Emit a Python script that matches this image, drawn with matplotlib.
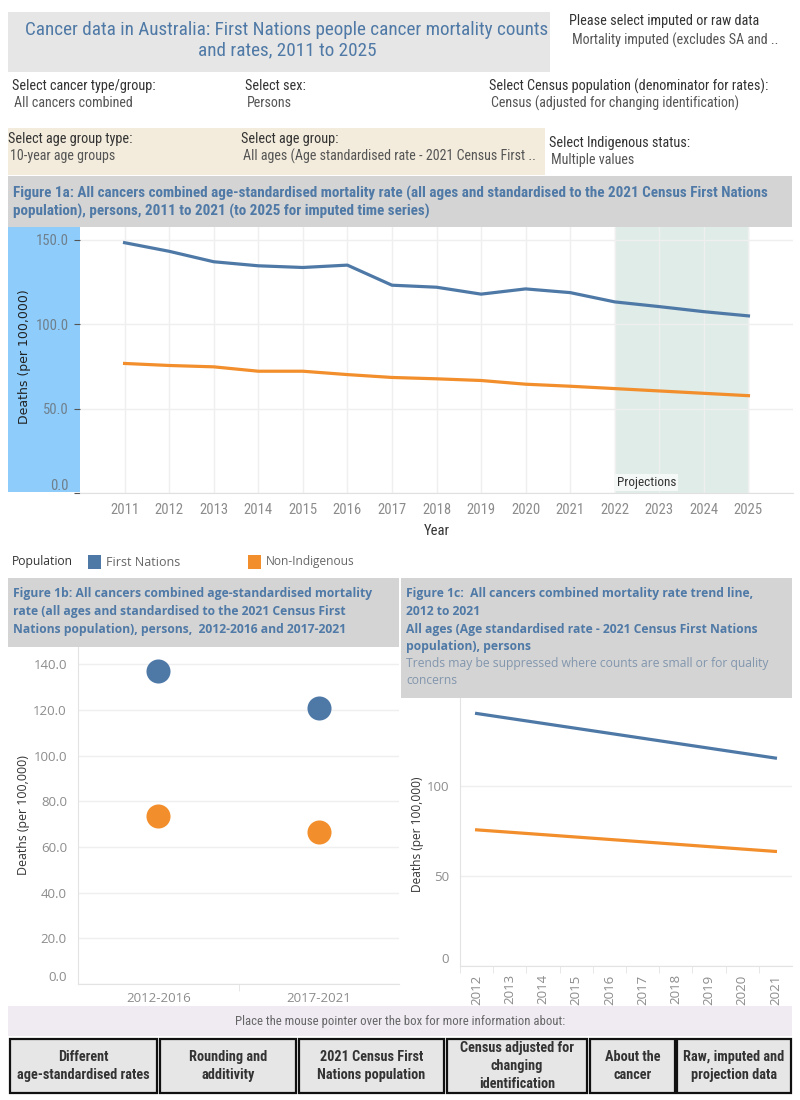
import matplotlib
matplotlib.use("Agg")
import matplotlib.pyplot as plt
from matplotlib.patches import Rectangle

# Figure 1a: age-standardised mortality rate by year
years = [2011, 2012, 2013, 2014, 2015, 2016, 2017, 2018, 2019, 2020, 2021, 2022, 2023, 2024, 2025]
first_nations = [148.4, 143.3, 137.1, 134.7, 133.7, 135.1, 123.2, 122.0, 117.9, 121.0, 118.8, 113.3, 110.5, 107.5, 105.0]
non_indigenous = [76.8, 75.6, 74.8, 72.2, 72.2, 70.2, 68.5, 67.7, 66.7, 64.5, 63.3, 61.9, 60.5, 59.1, 57.7]
projection_start, projection_end = 2022, 2025

# Figure 1b: five-year periods
periods = ["2012-2016", "2017-2021"]
period_first_nations = [136.9, 120.9]
period_non_indigenous = [73.6, 66.6]

# Figure 1c: trend lines (end points)
trend_years = [2012, 2021]
trend_first_nations = [140.4, 115.6]
trend_non_indigenous = [75.7, 63.7]
trend_ticks = list(range(2012, 2022))

buttons = ["Different\nage-standardised rates", "Rounding and\nadditivity",
           "2021 Census First\nNations population", "Census adjusted for\nchanging\nidentification",
           "About the\ncancer", "Raw, imputed and\nprojection data"]

BLUE = "#4e79a7"
ORANGE = "#f28e2b"
HEAD = "#4f79a6"
TICK = "#8c8c8c"
GRID = "#efefef"
DARK = "#333333"
NARROW = ["Roboto Condensed", "Lato", "DejaVu Sans"]
SANS = ["Open Sans", "DejaVu Sans"]

W, H = 800, 1100
fig = plt.figure(figsize=(8, 11), dpi=100)
renderer = fig.canvas.get_renderer()


def fx(x):
    return x / W


def fy(y):
    return 1 - y / H


def box(x0, y0, x1, y1, color, **kw):
    fig.patches.append(Rectangle((fx(x0), fy(y1)), (x1 - x0) / W, (y1 - y0) / H,
                                 transform=fig.transFigure, facecolor=color, zorder=-1, **kw))


def txt(x, y, s, size=9, color=DARK, family=NARROW, w=None, **kw):
    # w: width in pixels the text should span in the reference
    kw.setdefault("va", "center")
    t = fig.text(fx(x), fy(y), s, fontsize=size, color=color, family=family, **kw)
    if w:
        bb = t.get_window_extent(renderer)
        span = bb.height if kw.get("rotation") == 90 else bb.width
        t.set_fontsize(size * w / span)
    return t


def add_axes(x0, y0, x1, y1):
    return fig.add_axes([fx(x0), fy(y1), (x1 - x0) / W, (y1 - y0) / H])


def lift_zero(a):
    # Tableau draws the bottom "0" label just above the axis line
    a.get_yticklabels()[0].set_verticalalignment("bottom")


# ---- header / filters ----
box(8, 12, 550, 72, "#e6e6e6")
t = txt(287, 30, "Cancer data in Australia: First Nations people cancer mortality counts",
        size=12, color=HEAD, ha="center", w=523)
txt(287, 50, "and rates, 2011 to 2025", size=t.get_fontsize(), color=HEAD, ha="center")
lab = txt(569, 21, "Please select imputed or raw data", size=9.5, w=191).get_fontsize()
val = txt(572, 40, "Mortality imputed (excludes SA and ..", size=9.5, color="#555555", w=208).get_fontsize()

txt(12, 86, "Select cancer type/group:", size=lab)
txt(14, 103, "All cancers combined", size=val, color="#555555")
txt(245, 86, "Select sex:", size=lab)
txt(247, 103, "Persons", size=val, color="#555555")
txt(489, 86, "Select Census population (denominator for rates):", size=lab)
txt(491, 103, "Census (adjusted for changing identification)", size=val, color="#555555")

box(8, 128, 545, 175, "#f3ecdc")
txt(8, 139, "Select age group type:", size=lab)
txt(10, 156, "10-year age groups", size=val, color="#555555")
txt(241, 139, "Select age group:", size=lab)
txt(243, 156, "All ages (Age standardised rate - 2021 Census First ..", size=val, color="#555555")
txt(549, 143, "Select Indigenous status:", size=lab)
txt(551, 160, "Multiple values", size=val, color="#555555")

# ---- Figure 1a ----
box(8, 176, 792, 227, "#d4d4d4")
hs = txt(13, 193, "Figure 1a: All cancers combined age-standardised mortality rate (all ages and standardised to the 2021 Census First Nations",
         size=10, color=HEAD, weight="bold", w=758).get_fontsize()
txt(13, 211, "population), persons, 2011 to 2021 (to 2025 for imputed time series)",
    size=hs, color=HEAD, weight="bold")
box(8, 227, 80, 492, "#8ecdfb")

ax = add_axes(80, 227, 793, 493)
ax.set_facecolor("none")
ax.axvspan(projection_start, projection_end, color="#dfece8", zorder=0.5)
ax.plot(years, first_nations, color=BLUE, lw=2.3, zorder=3)
ax.plot(years, non_indigenous, color=ORANGE, lw=2.3, zorder=3)
ax.set_xlim(2010, 2026)
ax.set_ylim(0, 157.7)
ax.set_yticks([0, 50, 100, 150])
ax.set_yticklabels(["0.0", "50.0", "100.0", "150.0"])
ax.set_xticks(years)
ax.set_xticklabels([str(y) for y in years])
ax.grid(True, color=GRID, lw=1, zorder=0)
ax.set_axisbelow(True)
for s in ["top", "right", "left"]:
    ax.spines[s].set_visible(False)
ax.spines["bottom"].set_color("#e0e0e0")
ax.tick_params(axis="y", length=4, color="#555555", labelcolor="#6f7f8c", labelsize=10.5, pad=4)
ax.tick_params(axis="x", length=0, labelcolor=TICK, labelsize=10.5, pad=7)
for lb in ax.get_xticklabels() + ax.get_yticklabels():
    lb.set_family(NARROW)
lift_zero(ax)
ax.set_xlabel("Year", fontsize=10.5, color=DARK, family=NARROW, labelpad=5)
ax.text(projection_start + 0.05, 2.5, "Projections", fontsize=9.5, color=DARK, family=NARROW,
        va="bottom", ha="left", bbox=dict(facecolor="#f4f8f7", edgecolor="none", pad=1.5), zorder=4)
txt(25, 357, "Deaths (per 100,000)", size=9, family=["DejaVu Sans"], rotation=90, ha="center",
    color="#222222")

# ---- legend ----
txt(12, 562, "Population", size=9.5, family=SANS, w=62)
box(88, 555, 101, 569, BLUE)
txt(106, 562, "First Nations", size=9.5, family=SANS, color="#666666", w=74)
box(248, 555, 261, 569, ORANGE)
txt(266, 562, "Non-Indigenous", size=9.5, family=SANS, color="#666666", w=89)

# ---- Figure 1b ----
box(8, 578, 399, 647, "#d4d4d4")
hb = txt(13, 594, "Figure 1b: All cancers combined age-standardised mortality", size=9.5,
         color=HEAD, family=SANS, weight="bold", w=362).get_fontsize()
for i, line in enumerate(["rate (all ages and standardised to the 2021 Census First",
                          "Nations population), persons,  2012-2016 and 2017-2021"]):
    txt(13, 611.5 + i * 17.5, line, size=hb, color=HEAD, family=SANS, weight="bold")

ax_b = add_axes(78, 647, 399, 984)
xpos = range(len(periods))
ax_b.scatter(xpos, period_first_nations, s=300, color=BLUE, zorder=3, linewidths=0)
ax_b.scatter(xpos, period_non_indigenous, s=300, color=ORANGE, zorder=3, linewidths=0)
ax_b.set_xlim(-0.5, 1.5)
ax_b.set_ylim(0, 147.6)
ax_b.set_yticks(range(0, 141, 20))
ax_b.set_yticklabels([f"{v:.1f}" for v in range(0, 141, 20)])
ax_b.set_xticks(list(xpos))
ax_b.set_xticklabels(periods)
ax_b.set_xticks([0.5], minor=True)
ax_b.grid(True, axis="y", color=GRID, lw=1)
ax_b.set_axisbelow(True)
for s in ["top", "right"]:
    ax_b.spines[s].set_visible(False)
ax_b.spines["left"].set_color("#e3e3e3")
ax_b.spines["bottom"].set_color("#e3e3e3")
ax_b.tick_params(axis="y", length=0, labelcolor=TICK, labelsize=9.5, pad=8)
ax_b.tick_params(axis="x", which="major", length=0, labelcolor=TICK, labelsize=9.5, pad=6)
ax_b.tick_params(axis="x", which="minor", length=5, color="#e3e3e3")
for lb in ax_b.get_xticklabels() + ax_b.get_yticklabels():
    lb.set_family(SANS)
lift_zero(ax_b)
txt(24, 815, "Deaths (per 100,000)", size=9.5, family=SANS, rotation=90, ha="center", w=120)

# ---- Figure 1c ----
box(401, 578, 792, 698, "#d4d4d4")
for i, line in enumerate(["Figure 1c:  All cancers combined mortality rate trend line,",
                          "2012 to 2021",
                          "All ages (Age standardised rate - 2021 Census First Nations",
                          "population), persons"]):
    txt(406, 594 + i * 17.5, line, size=hb, color=HEAD, family=SANS, weight="bold")
txt(406, 663, "Trends may be suppressed where counts are small or for quality", size=hb,
    color="#8296ad", family=SANS)
txt(406, 680, "concerns", size=hb, color="#8296ad", family=SANS)

ax_c = add_axes(460, 698, 792, 966)
ax_c.plot(trend_years, trend_first_nations, color=BLUE, lw=2.3, zorder=3)
ax_c.plot(trend_years, trend_non_indigenous, color=ORANGE, lw=2.3, zorder=3)
ax_c.set_xlim(2011.5, 2021.5)
ax_c.set_ylim(0, 149)
ax_c.set_yticks([0, 50, 100])
ax_c.set_xticks(trend_ticks)
ax_c.set_xticklabels([str(y) for y in trend_ticks], rotation=90)
ax_c.set_xticks([y + 0.5 for y in trend_ticks[:-1]] + [2011.5], minor=True)
ax_c.grid(True, axis="y", color=GRID, lw=1)
ax_c.set_axisbelow(True)
for s in ["top", "right"]:
    ax_c.spines[s].set_visible(False)
ax_c.spines["left"].set_color("#e3e3e3")
ax_c.spines["bottom"].set_color("#e3e3e3")
ax_c.tick_params(axis="y", length=0, labelcolor=TICK, labelsize=9.5, pad=8)
ax_c.tick_params(axis="x", which="major", length=0, labelcolor=TICK, labelsize=9.5, pad=6)
ax_c.tick_params(axis="x", which="minor", length=5, color="#e3e3e3")
for lb in ax_c.get_xticklabels() + ax_c.get_yticklabels():
    lb.set_family(SANS)
lift_zero(ax_c)
txt(418, 834, "Deaths (per 100,000)", size=9.5, family=SANS, rotation=90, ha="center", w=116)

# ---- footer buttons ----
box(8, 1006, 792, 1036, "#f0ebf3")
txt(400, 1022, "Place the mouse pointer over the box for more information about:", size=8.5,
    color="#666666", ha="center", w=326)
edges = [(10, 157), (160, 296), (299, 444), (447, 587), (590, 675), (677, 791)]
bs = None
for (x0, x1), label in zip(edges, buttons):
    box(x0, 1039, x1, 1093, "#e6e6e6", edgecolor="#111111", linewidth=1.6)
    t = txt((x0 + x1) / 2, 1066, label, size=bs or 9.5, color=DARK, ha="center", weight="bold",
            linespacing=1.35, w=None if bs else 133)
    bs = t.get_fontsize()

fig.savefig("out.png", dpi=100)
